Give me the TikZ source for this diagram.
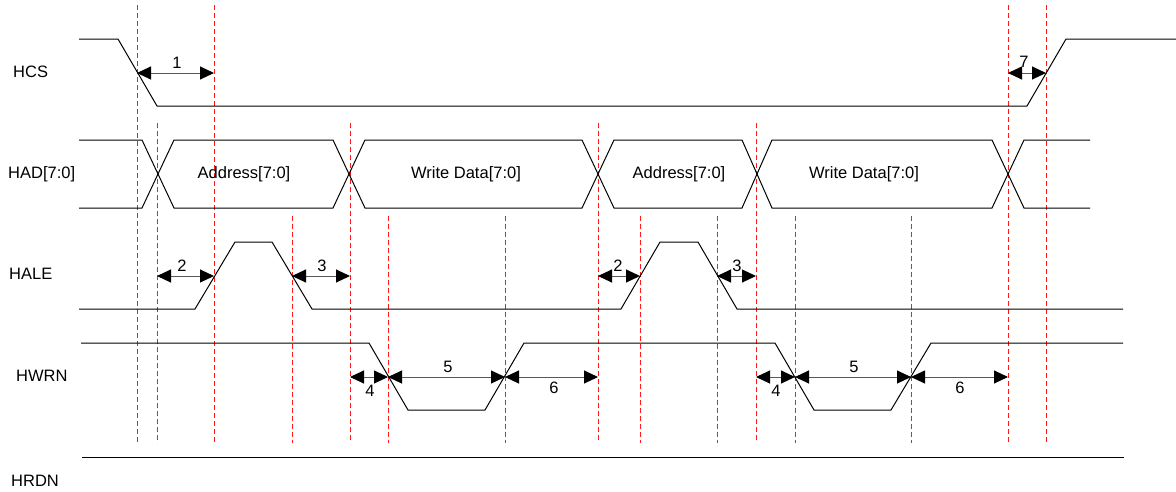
\documentclass[tikz,border=0pt]{standalone}
\usepackage{fontspec}
\setmainfont{Liberation Sans}
\usetikzlibrary{arrows.meta}

\begin{document}
\begin{tikzpicture}[x=1pt,y=-1pt,
    sig/.style={line width=1pt},
    guide/.style={red!90!white, line width=1pt, dash pattern=on 5pt off 3pt},
    dim/.style={gray!70!black, line width=1pt,
        {Triangle[length=14pt,width=13pt,black]}-{Triangle[length=14pt,width=13pt,black]}},
    lbl/.style={anchor=west, inner sep=0pt, font=\fontsize{16.5}{18}\selectfont},
    txt/.style={inner sep=0pt, font=\fontsize{16.5}{18}\selectfont}]
    \useasboundingbox (0,0) rectangle (1176,491);

    \foreach \x/\t in {137/5,157/123,214/5,292/216,350/123,388/216,505/216,598/123,
        640/216,717/216,756/123,795/216,911/216,1008/5,1046/5}
        \draw[guide] (\x,\t) -- (\x,443);

    \node[lbl] (hcs) at (13,72) {HCS};
    \node[lbl] (had) at (8,174) {HAD[7:0]};
    \node[lbl] (hale) at (9,274) {HALE};
    \node[lbl] (hwrn) at (16,376) {HWRN};
    \node[lbl] (hrdn) at (11,481) {HRDN};

    \draw[sig] (79,39) -- (118,39) -- (157,106) -- (1027,106) -- (1066,39) -- (1176,39);

    \draw[sig] (79,140) -- (142,140) -- (174,208) -- (333,208) -- (365,140) -- (582,140)
        -- (614,208) -- (742,208) -- (772,140) -- (992,140) -- (1024,208) -- (1090,208);
    \draw[sig] (79,208) -- (142,208) -- (174,140) -- (333,140) -- (365,208) -- (582,208)
        -- (614,140) -- (742,140) -- (772,208) -- (992,208) -- (1024,140) -- (1090,140);
    \node[txt] (adr1) at (244,174) {Address[7:0]};
    \node[txt] (wdat1) at (466,174) {Write Data[7:0]};
    \node[txt] (adr2) at (679,174) {Address[7:0]};
    \node[txt] (wdat2) at (864,174) {Write Data[7:0]};

    \draw[sig] (79,309) -- (195,309) -- (235,242) -- (272,242) -- (312,309) -- (621,309)
        -- (660,242) -- (698,242) -- (737,309) -- (1123,309);

    \draw[sig] (81,343) -- (369,343) -- (408,410) -- (485,410) -- (524,343) -- (775,343)
        -- (814,410) -- (891,410) -- (931,343) -- (1123,343);

    \draw[sig] (82,457) -- (1124,457);

    \foreach \a/\b/\y in {137/214/73,1008/1046/73,157/214/276,292/350/276,598/640/276,
        717/756/276,350/388/377,388/505/377,505/598/377,756/795/377,795/911/377,911/1008/377}
        \draw[dim] (\a,\y) -- (\b,\y);

    \foreach \n/\x/\y in {1/177/63,7/1024/62,2/182/266,3/322/266,2/618/266,3/737/266,
        4/370/391,5/448/367,6/554/388,4/776/391,5/854/367,6/960/388}
        \node[txt] at (\x,\y) {\n};
\end{tikzpicture}
\end{document}
